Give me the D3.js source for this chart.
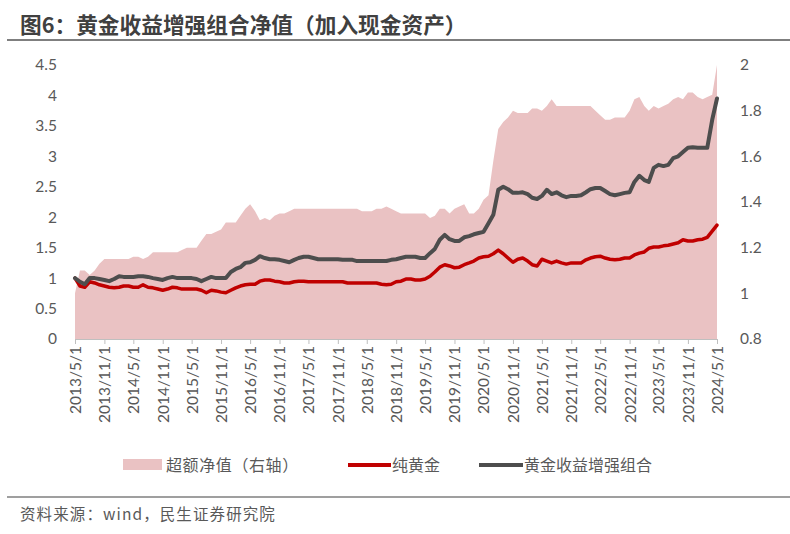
<!DOCTYPE html>
<html><head><meta charset="utf-8">
<script src="https://cdn.jsdelivr.net/npm/d3@7"></script>
<style>
body{margin:0;background:#fff;}
svg{display:block;}
</style></head>
<body>
<svg id="chart" width="790" height="534"></svg>
<script>
// ---- data ----
const startMonth = "2013-05-01";
const tickLabels = ["2013/5/1","2013/11/1","2014/5/1","2014/11/1","2015/5/1","2015/11/1","2016/5/1","2016/11/1","2017/5/1","2017/11/1","2018/5/1","2018/11/1","2019/5/1","2019/11/1","2020/5/1","2020/11/1","2021/5/1","2021/11/1","2022/5/1","2022/11/1","2023/5/1","2023/11/1","2024/5/1"];
const leftTicks = [0,0.5,1,1.5,2,2.5,3,3.5,4,4.5];
const rightTicks = [0.8,1,1.2,1.4,1.6,1.8,2];

// 超额净值（右轴）
const excessNav = [1.00,1.10,1.10,1.08,1.10,1.13,1.15,1.15,1.15,1.15,1.15,1.15,
1.16,1.16,1.15,1.16,1.18,1.18,1.18,1.18,1.18,1.18,1.19,1.20,
1.20,1.20,1.23,1.26,1.26,1.27,1.28,1.31,1.31,1.31,1.34,1.37,
1.39,1.36,1.32,1.33,1.32,1.34,1.35,1.35,1.36,1.37,1.37,1.37,
1.37,1.37,1.37,1.37,1.37,1.37,1.37,1.37,1.37,1.37,1.37,1.36,
1.36,1.36,1.37,1.37,1.38,1.37,1.36,1.35,1.35,1.35,1.35,1.35,
1.35,1.33,1.34,1.37,1.37,1.35,1.37,1.38,1.39,1.35,1.35,1.37,
1.41,1.43,1.58,1.72,1.75,1.77,1.80,1.79,1.79,1.79,1.81,1.81,
1.80,1.82,1.85,1.82,1.82,1.82,1.82,1.82,1.82,1.82,1.82,1.80,
1.78,1.76,1.76,1.77,1.77,1.77,1.80,1.85,1.86,1.82,1.80,1.82,
1.81,1.82,1.83,1.85,1.86,1.85,1.88,1.88,1.86,1.85,1.86,1.87,
2.00];

// 纯黄金
const pureGold = [1.00,0.87,0.85,0.94,0.92,0.89,0.87,0.85,0.84,0.85,0.87,0.87,
0.85,0.85,0.89,0.85,0.84,0.82,0.80,0.82,0.85,0.84,0.82,0.82,
0.82,0.82,0.80,0.76,0.80,0.79,0.77,0.76,0.80,0.84,0.87,0.89,
0.90,0.90,0.95,0.97,0.97,0.95,0.94,0.92,0.92,0.94,0.95,0.95,
0.94,0.94,0.94,0.94,0.94,0.94,0.94,0.94,0.92,0.92,0.92,0.92,
0.92,0.92,0.92,0.90,0.89,0.90,0.94,0.95,0.985,0.985,0.97,0.97,
0.985,1.03,1.10,1.18,1.22,1.20,1.17,1.18,1.22,1.25,1.28,1.33,
1.35,1.36,1.40,1.46,1.40,1.33,1.26,1.31,1.33,1.28,1.22,1.20,
1.31,1.28,1.25,1.28,1.25,1.23,1.25,1.25,1.25,1.30,1.33,1.35,
1.36,1.33,1.31,1.30,1.31,1.33,1.33,1.38,1.41,1.43,1.49,1.51,
1.51,1.53,1.54,1.56,1.58,1.63,1.61,1.61,1.63,1.64,1.67,1.77,
1.87];

// 黄金收益增强组合
const enhanced = [1.00,0.94,0.90,1.00,1.00,0.985,0.97,0.95,0.985,1.03,1.02,1.02,
1.02,1.03,1.03,1.02,1.00,0.985,0.97,1.00,1.02,1.00,1.00,1.00,
1.00,0.985,0.95,0.985,1.02,1.00,1.00,1.00,1.10,1.15,1.18,1.25,
1.26,1.30,1.36,1.33,1.31,1.31,1.30,1.28,1.26,1.30,1.33,1.35,
1.35,1.33,1.31,1.31,1.31,1.31,1.31,1.30,1.30,1.30,1.28,1.28,
1.28,1.28,1.28,1.28,1.28,1.30,1.31,1.33,1.35,1.35,1.35,1.33,
1.33,1.41,1.48,1.63,1.71,1.64,1.61,1.61,1.67,1.69,1.72,1.74,
1.76,1.90,2.04,2.45,2.50,2.46,2.40,2.40,2.41,2.38,2.32,2.30,
2.35,2.45,2.38,2.41,2.36,2.33,2.35,2.35,2.36,2.41,2.46,2.48,
2.48,2.43,2.38,2.36,2.38,2.40,2.41,2.58,2.68,2.61,2.58,2.81,
2.86,2.84,2.86,2.97,3.00,3.07,3.14,3.15,3.14,3.14,3.14,3.60,
3.95];

// ---- chart ----
const svg = d3.select("#chart");
const plot = {left:75, right:717, top:65, bottom:339};
const parse = d3.timeParse("%Y-%m-%d");
const t0 = parse(startMonth);
const dates = excessNav.map((_, i) => d3.timeMonth.offset(t0, i));
const tickDates = tickLabels.map(s => d3.timeParse("%Y/%m/%d")(s));

const x = d3.scaleTime().domain([tickDates[0], tickDates[tickDates.length-1]]).range([plot.left, plot.right]);
const yL = d3.scaleLinear().domain([0,4.5]).range([plot.bottom, plot.top]);
const yR = d3.scaleLinear().domain([0.8,2]).range([plot.bottom, plot.top]);

const cPink = "#eac2c3", cRed = "#c00000", cGray = "#4d4d4d", cText = "#595959";
const numFont = "Lato, 'Open Sans', sans-serif";
const cjkFont = "'Noto Sans CJK SC', sans-serif";

// title
svg.append("text").attr("x",20).attr("y",33)
  .attr("font-family",cjkFont).attr("font-weight","bold").attr("font-size",21.7)
  .attr("fill","#404040").text("图6：黄金收益增强组合净值（加入现金资产）");
svg.append("line").attr("x1",7).attr("x2",790).attr("y1",40).attr("y2",40)
  .attr("stroke","#7f7f7f").attr("stroke-width",2);

// area
const area = d3.area().x((d,i)=>x(dates[i])).y0(plot.bottom).y1(d=>yR(d));
svg.append("path").datum(excessNav).attr("d",area).attr("fill",cPink);

// lines
const lineL = d3.line().x((d,i)=>x(dates[i])).y(d=>yL(d));
svg.append("path").datum(pureGold).attr("d",lineL).attr("fill","none")
  .attr("stroke",cRed).attr("stroke-width",3.5).attr("stroke-linejoin","round").attr("stroke-linecap","round");
svg.append("path").datum(enhanced).attr("d",lineL).attr("fill","none")
  .attr("stroke",cGray).attr("stroke-width",4).attr("stroke-linejoin","round").attr("stroke-linecap","round");

// left axis
const gL = svg.append("g").attr("transform",`translate(${plot.left},0)`)
  .call(d3.axisLeft(yL).tickValues(leftTicks).tickSize(0).tickPadding(18).tickFormat(d=>String(d)));
gL.select(".domain").remove();
gL.selectAll("text").attr("font-family",numFont).attr("font-size",15.5).attr("fill",cText);

// right axis
const gR = svg.append("g").attr("transform",`translate(${plot.right},0)`)
  .call(d3.axisRight(yR).tickValues(rightTicks).tickSize(0).tickPadding(23).tickFormat(d=>String(+d.toFixed(1))));
gR.select(".domain").remove();
gR.selectAll("text").attr("font-family",numFont).attr("font-size",15.5).attr("fill",cText);

// x axis
const gX = svg.append("g").attr("transform",`translate(0,${plot.bottom})`)
  .call(d3.axisBottom(x).tickValues(tickDates).tickSize(5).tickFormat((d,i)=>tickLabels[i]));
gX.select(".domain").attr("stroke","#bfbfbf");
gX.selectAll(".tick line").attr("stroke","#bfbfbf");
gX.selectAll("text").attr("font-family",numFont).attr("font-size",15.5).attr("fill",cText)
  .attr("transform","rotate(-90)").attr("text-anchor","end").attr("dx","-7").attr("dy","0.35em").attr("y",0).attr("x",0);

// legend
const lg = svg.append("g").attr("font-family",cjkFont).attr("font-size",16).attr("fill",cText);
lg.append("rect").attr("x",123).attr("y",459).attr("width",39).attr("height",11).attr("fill",cPink);
lg.append("text").attr("x",166).attr("y",471).attr("letter-spacing",0.6).text("超额净值（右轴）");
lg.append("line").attr("x1",348).attr("x2",391).attr("y1",465).attr("y2",465).attr("stroke",cRed).attr("stroke-width",4);
lg.append("text").attr("x",392).attr("y",471).text("纯黄金");
lg.append("line").attr("x1",479).attr("x2",523).attr("y1",465).attr("y2",465).attr("stroke",cGray).attr("stroke-width",4);
lg.append("text").attr("x",524).attr("y",471).text("黄金收益增强组合");

// footer
svg.append("line").attr("x1",7).attr("x2",790).attr("y1",497).attr("y2",497)
  .attr("stroke","#7f7f7f").attr("stroke-width",1.5);
svg.append("text").attr("x",20).attr("y",520).attr("font-family",cjkFont).attr("font-size",15.5)
  .attr("letter-spacing",1.1).attr("fill",cText).text("资料来源：wind，民生证券研究院");
</script>
</body></html>
